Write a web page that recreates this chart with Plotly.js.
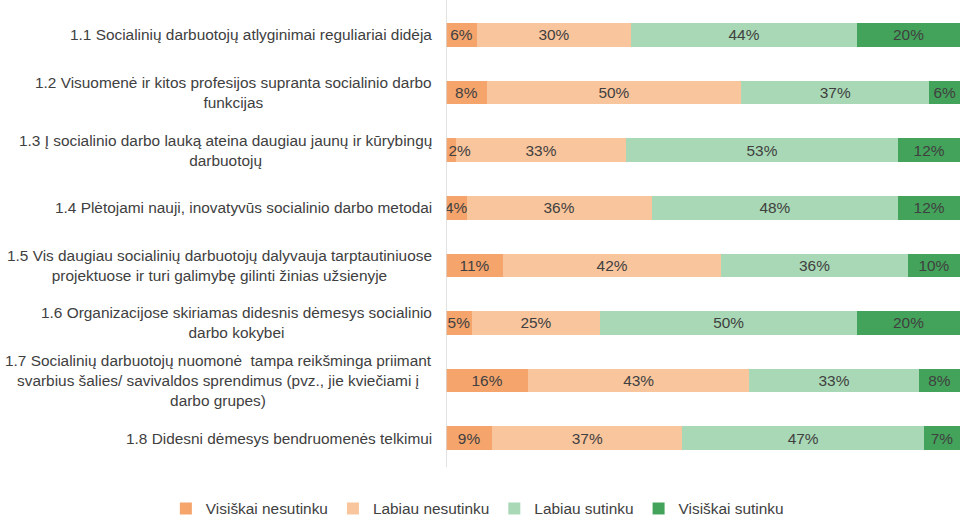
<!DOCTYPE html>
<html>
<head>
<meta charset="utf-8">
<script src="https://cdn.plot.ly/plotly-3.0.1.min.js"></script>
<style>
html,body{margin:0;padding:0;background:#fff;}
#chart{width:962px;height:520px;}
</style>
</head>
<body>
<div id="chart"></div>
<script>
const categories = [
  "1.1 Socialinių darbuotojų atlyginimai reguliariai didėja",
  "1.2 Visuomenė ir kitos profesijos supranta socialinio darbo<br>funkcijas",
  "1.3 Į socialinio darbo lauką ateina daugiau jaunų ir kūrybingų<br>darbuotojų",
  "1.4 Plėtojami nauji, inovatyvūs socialinio darbo metodai",
  "1.5 Vis daugiau socialinių darbuotojų dalyvauja tarptautiniuose<br>projektuose ir turi galimybę gilinti žinias užsienyje",
  "1.6 Organizacijose skiriamas didesnis dėmesys socialinio<br>darbo kokybei",
  "1.7 Socialinių darbuotojų nuomonė  tampa reikšminga priimant<br>svarbius šalies/ savivaldos sprendimus (pvz., jie kviečiami į<br>darbo grupes)",
  "1.8 Didesni dėmesys bendruomenės telkimui"
];
const seriesNames = ["Visiškai nesutinku", "Labiau nesutinku", "Labiau sutinku", "Visiškai sutinku"];
const visiskaiNesutinku = [6, 8, 2, 4, 11, 5, 16, 9];
const labiauNesutinku   = [30, 50, 33, 36, 42, 25, 43, 37];
const labiauSutinku     = [44, 37, 53, 48, 36, 50, 33, 47];
const visiskaiSutinku   = [20, 6, 12, 12, 10, 20, 8, 7];
const colors = ["#F5A46C", "#F9C59C", "#A8D8B5", "#43A35A"];

const allSeries = [visiskaiNesutinku, labiauNesutinku, labiauSutinku, visiskaiSutinku];
const fontFam = "Liberation Sans, Arial, sans-serif";
const txtColor = "#404040";
const FS = 15.4;

// very narrow segments: pad label so it starts just right of the axis line
const label = v => (v < 3 ? "\u00A0\u00A0\u00A0\u00A0" + v + "%" : v + "%");

const traces = allSeries.map((vals, i) => ({
  type: "bar",
  orientation: "h",
  name: seriesNames[i],
  y: categories,
  x: vals,
  text: vals.map(label),
  textposition: "inside",
  insidetextanchor: "middle",
  textangle: 0,
  constraintext: "none",
  textfont: {family: fontFam, size: FS, color: txtColor},
  marker: {color: colors[i], line: {width: 0}},
  zorder: i === 0 ? 1 : 0,
  hoverinfo: "none"
}));

const annotations = categories.map(c => ({
  x: 0, xref: "paper", xanchor: "right", xshift: -12,
  y: c, yref: "y", yanchor: "middle",
  text: c, align: "center", showarrow: false,
  font: {family: fontFam, size: FS, color: txtColor}
}));

const layout = {
  width: 962, height: 520,
  margin: {l: 446, r: 2, t: 6, b: 53, autoexpand: false},
  barmode: "stack",
  barnorm: "percent",
  bargap: 0.59,
  paper_bgcolor: "#ffffff",
  plot_bgcolor: "rgba(0,0,0,0)",
  font: {family: fontFam, size: FS, color: txtColor},
  xaxis: {visible: false, range: [0, 100], fixedrange: true},
  yaxis: {
    autorange: "reversed",
    showticklabels: false,
    ticks: "",
    showgrid: false,
    zeroline: false,
    showline: false
  },
  shapes: [{
    type: "line", layer: "above",
    xref: "x", x0: 0, x1: 0,
    yref: "paper", y0: 0, y1: 1.013,
    line: {color: "#d9d9d9", width: 1.5}
  }],
  showlegend: true,
  legend: {
    orientation: "h",
    xref: "paper", yref: "paper",
    x: -0.545, xanchor: "left",
    y: -0.091, yanchor: "middle",
    font: {family: fontFam, size: FS, color: txtColor},
    traceorder: "normal"
  },
  annotations: annotations
};

Plotly.newPlot("chart", traces, layout, {displayModeBar: false, staticPlot: true});
</script>
</body>
</html>
